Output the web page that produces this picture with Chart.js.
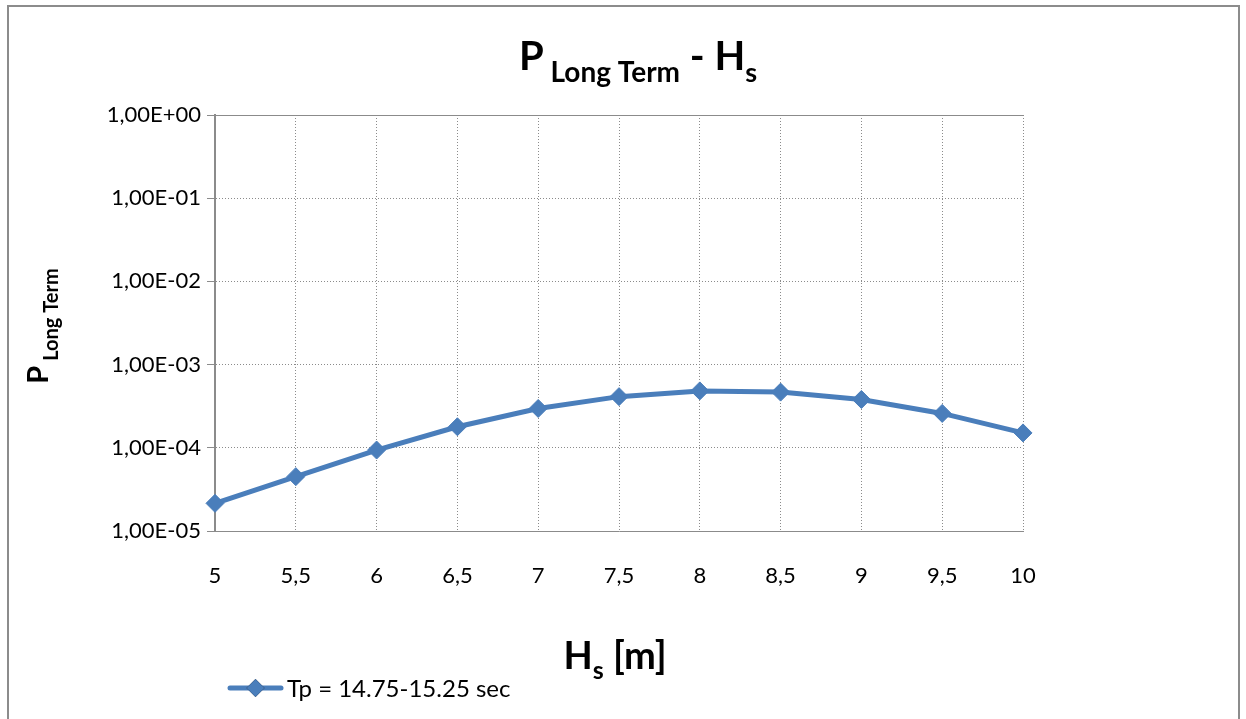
<!DOCTYPE html>
<html>
<head>
<meta charset="utf-8">
<script src="https://cdn.jsdelivr.net/npm/chart.js@4/dist/chart.umd.min.js"></script>
<style>
  html, body { margin: 0; padding: 0; background: #fff; }
  #wrap { width: 1246px; height: 719px; }
</style>
</head>
<body>
<div id="wrap"><canvas id="myChart" width="1246" height="719"></canvas></div>
<script>
var hsLabels = ['5', '5,5', '6', '6,5', '7', '7,5', '8', '8,5', '9', '9,5', '10']
var pLongTerm = [2.15e-5, 4.5e-5, 9.4e-5, 1.79e-4, 2.97e-4, 4.12e-4, 4.83e-4, 4.67e-4, 3.81e-4, 2.59e-4, 1.51e-4]
var yDecades = [1e-5, 1e-4, 1e-3, 1e-2, 1e-1, 1]
var seriesName = 'Tp = 14.75-15.25 sec'

var FONT = 'Lato, Carlito, "Open Sans", sans-serif'
var blue = '#4A7EBB'
var gridGray = '#8b8b8b'

// 1e-4 -> "1,00E-04"
function sciLabel(v) {
      var e = Math.round(Math.log10(v))
      var sign = e < 0 ? '-' : '+'
      var n = Math.abs(e)
      return '1,00E' + sign + (n < 10 ? '0' : '') + n
}

// draws a run of text pieces, some of them lowered as subscripts
function drawRich(ctx, parts, x, y, align) {
      var total = 0
      parts.forEach(function (p) {
            ctx.font = 'bold ' + p.size + 'px ' + FONT
            p.w = ctx.measureText(p.t).width
            total += p.w
      })
      var cx = align === 'center' ? x - total / 2 : x
      ctx.textAlign = 'left'
      ctx.textBaseline = 'alphabetic'
      ctx.fillStyle = '#000'
      parts.forEach(function (p) {
            ctx.font = 'bold ' + p.size + 'px ' + FONT
            ctx.fillText(p.t, cx, y + (p.dy || 0))
            cx += p.w
      })
}

var decorations = {
      id: 'decorations',
      beforeDraw: function (chart) {
            var ctx = chart.ctx
            ctx.save()
            ctx.fillStyle = '#fff'
            ctx.fillRect(0, 0, chart.width, chart.height)
            ctx.restore()
      },
      afterDraw: function (chart) {
            var ctx = chart.ctx
            var area = chart.chartArea
            ctx.save()

            // solid line along the top of the plot
            ctx.strokeStyle = gridGray
            ctx.lineWidth = 1
            ctx.beginPath()
            ctx.moveTo(area.left, Math.round(area.top) + 0.5)
            ctx.lineTo(area.right, Math.round(area.top) + 0.5)
            ctx.stroke()

            // outer frame
            ctx.strokeStyle = '#8c8c8c'
            ctx.lineWidth = 2
            ctx.strokeRect(8, 6, 1231, 730)

            // chart title
            drawRich(ctx, [
                  { t: 'P', size: 40 },
                  { t: ' Long Term', size: 28, dy: 12 },
                  { t: ' - H', size: 40 },
                  { t: 's', size: 27, dy: 12 }
            ], 638, 70, 'center')

            // x axis title
            drawRich(ctx, [
                  { t: 'H', size: 38 },
                  { t: 's', size: 25, dy: 10 },
                  { t: ' [m]', size: 38 }
            ], 615, 669, 'center')

            // y axis title, rotated
            ctx.save()
            ctx.translate(48, 326)
            ctx.rotate(-Math.PI / 2)
            drawRich(ctx, [
                  { t: 'P', size: 29 },
                  { t: ' Long Term', size: 20, dy: 10 }
            ], 0, 0, 'center')
            ctx.restore()

            // legend entry
            var ds = chart.data.datasets[0]
            var ly = 688
            ctx.strokeStyle = ds.borderColor
            ctx.lineWidth = 5
            ctx.lineCap = 'round'
            ctx.beginPath()
            ctx.moveTo(230, ly)
            ctx.lineTo(281, ly)
            ctx.stroke()
            Chart.helpers.drawPoint(ctx, {
                  pointStyle: 'rectRot', radius: 9, borderWidth: 0
            }, 255.5, ly)
            ctx.fillStyle = ds.backgroundColor
            ctx.fill()
            ctx.fillStyle = '#000'
            ctx.font = '24px ' + FONT
            ctx.textAlign = 'left'
            ctx.textBaseline = 'middle'
            ctx.fillText(ds.label, 287, ly + 1)

            ctx.restore()
      }
}

var ctx = document.getElementById('myChart')
var myChart = new Chart(ctx, {
      type: 'line',
      data: {
            labels: hsLabels,
            datasets: [{
                  label: seriesName,
                  data: pLongTerm,
                  fill: false,
                  tension: 0,
                  borderColor: blue,
                  backgroundColor: blue,
                  borderWidth: 5,
                  pointStyle: 'rectRot',
                  pointRadius: 9,
                  pointBorderWidth: 1,
                  pointBackgroundColor: blue,
                  pointBorderColor: blue
            }]
      },
      plugins: [decorations],
      options: {
            animation: false,
            responsive: false,
            layout: {
                  padding: { left: 0, right: 223, top: 115, bottom: 128 }
            },
            plugins: {
                  legend: { display: false },
                  title: { display: false },
                  tooltip: { enabled: false }
            },
            scales: {
                  x: {
                        type: 'category',
                        offset: false,
                        grid: {
                              color: gridGray,
                              lineWidth: 1,
                              drawTicks: false
                        },
                        border: { display: true, color: gridGray, dash: [1, 2] },
                        ticks: {
                              color: '#000',
                              font: { family: FONT, size: 22 },
                              padding: 32,
                              maxRotation: 0
                        },
                        afterFit: function (scale) { scale.height = 60 }
                  },
                  y: {
                        type: 'logarithmic',
                        min: 1e-5,
                        max: 1,
                        afterBuildTicks: function (scale) {
                              scale.ticks = yDecades.map(function (v) { return { value: v, major: true } })
                        },
                        grid: {
                              color: gridGray,
                              lineWidth: 1,
                              tickLength: 8,
                              tickColor: gridGray
                        },
                        border: { display: true, color: gridGray, width: 2, dash: [1, 2] },
                        ticks: {
                              color: '#000',
                              font: { family: FONT, size: 22 },
                              padding: 6,
                              callback: function (v) { return sciLabel(v) }
                        },
                        afterFit: function (scale) { scale.width = 215 }
                  }
            }
      }
})
</script>
</body>
</html>
